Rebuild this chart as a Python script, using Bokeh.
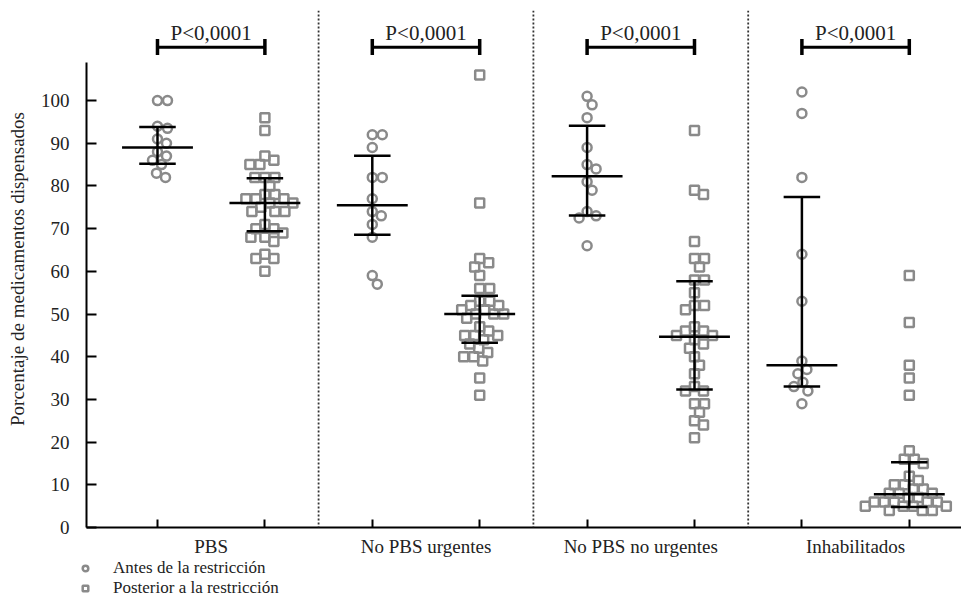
import numpy as np
from bokeh.plotting import figure
from bokeh.layouts import column
from bokeh.models import (Range1d, FixedTicker, LinearAxis, Legend, LegendItem, Span)
from bokeh.core.properties import value
from bokeh.embed import file_html
from bokeh.resources import INLINE

# ---------------- data ----------------
groups = ["PBS", "No PBS urgentes", "No PBS no urgentes", "Inhabilitados"]
series = ["Antes de la restricción", "Posterior a la restricción"]
p_labels = ["P<0,0001", "P<0,0001", "P<0,0001", "P<0,0001"]
y_ticks = [0, 10, 20, 30, 40, 50, 60, 70, 80, 90, 100]

pbs_antes = [100, 100, 94, 93.5, 91, 90, 88, 87, 86, 85, 83, 82]
pbs_post = [96, 93, 87, 86, 85, 85, 82, 82, 82, 80, 78, 78, 77, 77, 77, 76, 76, 75,
            74, 74, 74, 71, 70, 70, 69, 68, 68, 67, 64, 63, 63, 60]
urg_antes = [92, 92, 89, 82, 82, 77, 74, 73, 71, 68, 59, 57]
urg_post = [106, 76, 63, 62, 61, 59, 56, 56, 53, 53, 52, 52, 51, 51, 50, 50, 50, 49,
            47, 46, 45, 45, 45, 44, 43, 42, 41, 40, 40, 39, 35, 31]
nourg_antes = [101, 99, 96, 89, 85, 84, 81, 79, 74, 73, 72.5, 66]
nourg_post = [93, 79, 78, 67, 63, 63, 61, 58, 58, 55, 52, 52, 51, 47, 46, 46, 45, 45,
              44, 43, 42, 40, 38, 36, 33, 32, 32, 29, 29, 27, 25, 24, 21]
inh_antes = [102, 97, 82, 64, 53, 39, 37, 36, 34, 33, 32, 29]
inh_post = [59, 48, 38, 35, 31, 18, 16, 16, 15, 12, 11, 10, 10, 9, 9, 8, 8, 8, 7, 7,
            6, 6, 6, 6, 6, 5, 5, 5, 5, 4, 4, 4]

all_series = [pbs_antes, pbs_post, urg_antes, urg_post,
              nourg_antes, nourg_post, inh_antes, inh_post]

# median and interquartile range
medians = [89, 76, 75.5, 50, 82.3, 44.7, 38, 7.8]
q1 = [85.2, 69.4, 68.6, 43.3, 73.1, 32.3, 33, 4.8]
q3 = [93.8, 81.8, 87.1, 54.3, 94.1, 57.7, 77.4, 15.3]

# ---------------- layout ----------------
W, H1, H2 = 961, 559, 40
BL, BT, BB = 86, 10, 32
X0, X1 = 0.339, 8.486
Y0, Y1 = 0, 121.1
FONT = "Liberation Serif"
GRAY = "#8a8a8a"
TXT = "#222222"

sx = (W - BL) / (X1 - X0)       # px per x unit
sy = (H1 - BT - BB) / (Y1 - Y0)  # px per y unit


def swarm(vals, center, d=9.5):
    placed = []
    out = [0.0] * len(vals)
    order = sorted(range(len(vals)), key=lambda i: -vals[i])
    for i in order:
        y = vals[i] * sy
        found = 0
        for k in range(0, 300):
            cands = [0] if k == 0 else [k, -k]
            ok = None
            for c in cands:
                if all((c - px) ** 2 + (y - py) ** 2 >= d * d for px, py in placed):
                    ok = c
                    break
            if ok is not None:
                found = ok
                break
        placed.append((found, y))
        out[i] = center + found / sx
    return out


p = figure(width=W, height=H1, x_range=Range1d(X0, X1), y_range=Range1d(Y0, Y1),
           output_backend="svg", toolbar_location=None,
           min_border_left=BL, min_border_right=0, min_border_top=BT,
           min_border_bottom=BB, x_axis_location=None, y_axis_location=None)
p.outline_line_color = None
p.xgrid.visible = False
p.ygrid.visible = False

# separators
for sep in [2.5, 4.5, 6.5]:
    p.add_layout(Span(location=sep, dimension="height", line_color="#333333",
                      line_width=1.8, line_dash="2 2"))

positions = list(range(1, 9))
for idx, vals in enumerate(all_series):
    pos = positions[idx]
    xs = swarm(vals, pos)
    marker = "circle" if idx % 2 == 0 else "square"
    p.scatter(xs, vals, marker=marker, size=9, line_color=GRAY, line_width=2.5,
              fill_color=None)

# median + IQR
pos = np.array(positions, dtype=float)
p.segment(x0=pos, x1=pos, y0=q1, y1=q3, line_color="black", line_width=2.5)
p.segment(x0=pos - 0.17, x1=pos + 0.17, y0=q1, y1=q1, line_color="black", line_width=2.5)
p.segment(x0=pos - 0.17, x1=pos + 0.17, y0=q3, y1=q3, line_color="black", line_width=2.5)
p.segment(x0=pos - 0.33, x1=pos + 0.33, y0=medians, y1=medians, line_color="black",
          line_width=2.5)

# significance brackets
left = pos[0::2]
right = pos[1::2]
mid = (left + right) / 2
yb = [112.5] * 4
p.segment(x0=left, x1=right, y0=yb, y1=yb, line_color="black", line_width=3)
p.segment(x0=np.concatenate([left, right]), x1=np.concatenate([left, right]),
          y0=[110.7] * 8, y1=[114.4] * 8, line_color="black", line_width=3.5)
p.text(x=mid, y=yb, text=p_labels, text_align="center", text_baseline="bottom",
       y_offset=-2, text_font=value(FONT), text_font_size="21px", text_color=TXT)

# axes
yaxis = LinearAxis(ticker=FixedTicker(ticks=y_ticks), bounds=(0, 109),
                   axis_line_width=2, axis_line_color="black",
                   major_tick_in=10, major_tick_out=0, major_tick_line_width=2,
                   minor_tick_line_color=None,
                   major_label_standoff=17,
                   major_label_text_font=FONT, major_label_text_font_size="19px",
                   major_label_text_color=TXT,
                   axis_label="Porcentaje de medicamentos dispensados",
                   axis_label_text_font=FONT, axis_label_text_font_size="19px",
                   axis_label_text_font_style="normal", axis_label_text_color=TXT,
                   axis_label_standoff=10)
p.add_layout(yaxis, "left")

xaxis = LinearAxis(ticker=FixedTicker(ticks=positions), axis_line_width=2,
                   axis_line_color="black", major_tick_in=8, major_tick_out=0,
                   major_tick_line_width=2, minor_tick_line_color=None,
                   major_label_text_font_size="0px", major_label_standoff=0,
                   major_label_overrides={k: "" for k in positions})
p.add_layout(xaxis, "below")

xlab = LinearAxis(ticker=FixedTicker(ticks=list(mid)), axis_line_color=None,
                  major_tick_line_color=None, major_tick_in=0, major_tick_out=0,
                  minor_tick_line_color=None,
                  major_label_overrides={float(m): g for m, g in zip(mid, groups)},
                  major_label_standoff=8,
                  major_label_text_font=FONT, major_label_text_font_size="19px",
                  major_label_text_color=TXT)
p.add_layout(xlab, "below")

# legend in a strip below the chart
lg = figure(width=W, height=H2, x_range=Range1d(0, 1), y_range=Range1d(0, 1),
            output_backend="svg", toolbar_location=None,
            min_border_left=0, min_border_right=0, min_border_top=0,
            min_border_bottom=0, x_axis_location=None, y_axis_location=None)
lg.frame_align = False
lg.outline_line_color = None
lg.xgrid.visible = False
lg.ygrid.visible = False
rc = lg.scatter([float("nan")], [float("nan")], marker="circle", size=9,
                line_color=GRAY, line_width=2.5, fill_color=None)
rs = lg.scatter([float("nan")], [float("nan")], marker="square", size=9,
                line_color=GRAY, line_width=2.5, fill_color=None)
legend = Legend(items=[LegendItem(label=series[0], renderers=[rc]),
                       LegendItem(label=series[1], renderers=[rs])],
                location=(78, 1), orientation="vertical",
                border_line_color=None, background_fill_alpha=0,
                padding=0, margin=0, spacing=0, glyph_width=14, glyph_height=18,
                label_height=18, label_standoff=21,
                label_text_font=FONT, label_text_font_size="17px",
                label_text_color=TXT)
lg.add_layout(legend)

layout = column(p, lg, spacing=0)
open("out.html", "w").write(file_html(layout, INLINE))
